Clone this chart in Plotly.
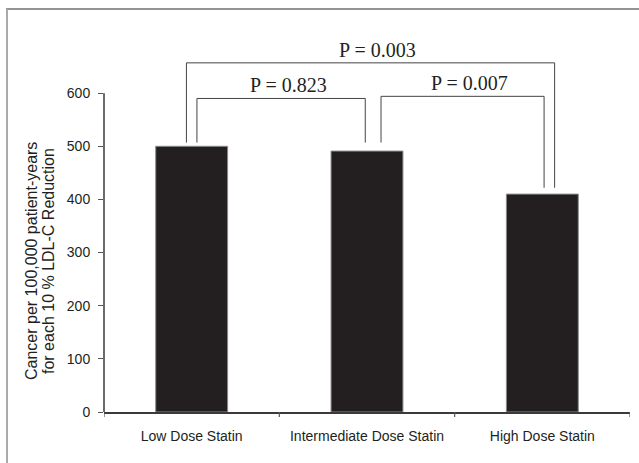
import plotly.graph_objects as go

# ---- data ----
categories = ["Low Dose Statin", "Intermediate Dose Statin", "High Dose Statin"]
values = [500, 491, 410]
y_ticks = [0, 100, 200, 300, 400, 500, 600]
comparisons = [(0, 1), (1, 2), (0, 2)]
p_labels = ["P = 0.823", "P = 0.007", "P = 0.003"]
y_title_lines = ["Cancer per 100,000 patient-years", "for each 10 % LDL-C Reduction"]

fig = go.Figure()
fig.add_trace(go.Bar(
    x=list(range(len(categories))), y=values, width=0.41,
    marker=dict(color="#231f20", line=dict(color="#8a8a8a", width=1)),
    showlegend=False, hoverinfo="skip",
))

# bracket geometry (x offsets in category units, y in data units)
bracket_geom = {
    (0, 1): dict(x0=0.03, x1=0.99, top=590, b0=507, b1=507),
    (1, 2): dict(x0=1.08, x1=2.01, top=594, b0=507, b1=422),
    (0, 2): dict(x0=-0.03, x1=2.07, top=657, b0=507, b1=422),
}
line_style = dict(color="#444444", width=1)
for comp, lab in zip(comparisons, p_labels):
    g = bracket_geom[comp]
    path = (f"M {g['x0']},{g['b0']} L {g['x0']},{g['top']} "
            f"L {g['x1']},{g['top']} L {g['x1']},{g['b1']}")
    fig.add_shape(type="path", path=path, xref="x", yref="y", line=line_style)
    fig.add_annotation(x=(g['x0'] + g['x1']) / 2 + 0.04, y=g['top'], xref="x", yref="y",
                       text=lab, showarrow=False, yanchor="bottom", yshift=0,
                       font=dict(family="Liberation Serif, Times New Roman, serif", size=20, color="#231f20"))

# y axis line (0..600 only)
fig.add_shape(type="line", xref="paper", yref="y", x0=0, x1=0, y0=0, y1=y_ticks[-1],
              line=dict(color="#3a3a3a", width=1.5))

# figure frame (top and left edges)
fig.add_shape(type="line", xref="paper", yref="paper", x0=(6 - 104) / 526, x1=(640 - 104) / 526,
              y0=(412 - 9) / 372, y1=(412 - 9) / 372, line=dict(color="#2a2a2a", width=1.2))
fig.add_shape(type="line", xref="paper", yref="paper", x0=(7 - 104) / 526, x1=(7 - 104) / 526,
              y0=(412 - 9) / 372, y1=(412 - 470) / 372, line=dict(color="#aaaaaa", width=2))

# y title (two lines)
for line_text, px in zip(y_title_lines, [31, 48]):
    fig.add_annotation(x=(px - 104) / 526, y=(412 - 261) / 372, xref="paper", yref="paper",
                       xanchor="center", yanchor="middle",
                       text=line_text, textangle=-90, showarrow=False,
                       font=dict(family="Liberation Sans, Arial, sans-serif", size=16, color="#231f20"))

fig.update_layout(
    width=639, height=463,
    margin=dict(l=104, r=9, t=40, b=51),
    paper_bgcolor="white", plot_bgcolor="white",
    font=dict(family="Liberation Sans, Arial, sans-serif", size=13, color="#231f20"),
)
fig.update_xaxes(
    range=[-0.5, 2.5], tickmode="array", tickvals=[0, 1, 2], ticktext=categories,
    showline=True, linecolor="#3a3a3a", linewidth=1.5, showgrid=False, zeroline=False,
    ticks="", tickfont=dict(size=14), ticklabelstandoff=10,
)
# boundary ticks on x axis
for b in [-0.5, 0.5, 1.5, 2.5]:
    fig.add_shape(type="line", xref="x", yref="paper", x0=b, x1=b, y0=0, y1=-5 / 372,
                  line=dict(color="#555555", width=1.2))
fig.update_yaxes(
    range=[0, 700], tickmode="array", tickvals=y_ticks,
    showline=False, showgrid=False, zeroline=False,
    ticks="outside", ticklen=5, tickcolor="#555555", tickwidth=1.2,
    tickfont=dict(size=14), ticklabelstandoff=5,
)

fig.write_html("out.html")
